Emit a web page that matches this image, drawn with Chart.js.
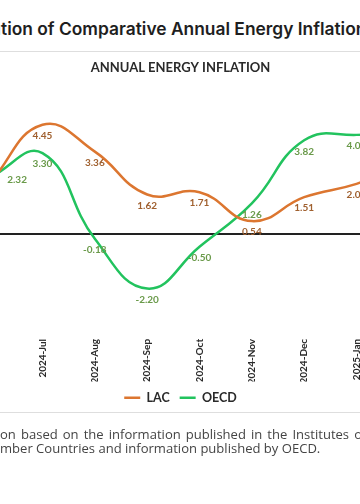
<!DOCTYPE html>
<html><head><meta charset="utf-8">
<script src="https://cdn.jsdelivr.net/npm/chart.js@4.4.1/dist/chart.umd.min.js"></script>
<style>
html,body{margin:0;padding:0;width:360px;height:504px;overflow:hidden;background:#fff;position:relative}
.abs{position:absolute;white-space:nowrap}
#title{top:17px;left:0;font-family:Inter,sans-serif;font-weight:600;color:#1e1e1e;font-size:17px;line-height:24px}
.rule{position:absolute;left:0;width:360px;height:1px;background:#dedede}
#chartBox{position:absolute;left:-74.5px;top:55px;width:509px;height:359px}
.note{font-family:'Open Sans',sans-serif;font-size:12.5px;color:#444;line-height:14px;left:0}
</style></head>
<body>
<div id="title" class="abs"><span class="pre">Evolu</span><span class="vis">tion of Comparative Annual Energy Inflatio</span>n</div>
<div class="rule" style="top:51px"></div>
<div id="chartBox"><canvas id="c"></canvas></div>
<div class="rule" style="top:412px"></div>
<div id="n1" class="abs note" style="top:427px"><span class="pre">Source: Own elaborati</span><span class="vis">on based on the information published in the Institutes o</span>f Statistics of</div>
<div id="n2" class="abs note" style="top:441px"><span class="pre">Statistics of Me</span><span class="vis">mber Countries and information published by OECD.</span></div>
<script>
const categories = ['2024-Jun','2024-Jul','2024-Aug','2024-Sep','2024-Oct','2024-Nov','2024-Dec','2025-Jan','2025-Feb'];
const lacValues  = [2.10, 4.45, 3.36, 1.62, 1.71, 0.54, 1.51, 2.05, 2.90];
const oecdValues = [2.32, 3.30, -0.18, -2.20, -0.50, 1.26, 3.82, 4.04, 3.95];
const seriesNames = ['LAC', 'OECD'];
const chartTitle = 'ANNUAL ENERGY INFLATION';

function fit(el, startX, targetW){
  const pre = el.querySelector('.pre'), vis = el.querySelector('.vis');
  if (targetW){
    let fs = parseFloat(getComputedStyle(el).fontSize);
    fs *= targetW / vis.getBoundingClientRect().width;
    el.style.fontSize = fs + 'px';
  }
  el.style.left = (startX - pre.getBoundingClientRect().width) + 'px';
}
function layoutText(){
  fit(document.getElementById('title'), 1, 355);
  const n2 = document.getElementById('n2');
  fit(n2, 0, 320);
  const n1 = document.getElementById('n1');
  n1.style.fontSize = n2.style.fontSize;
  n1.style.wordSpacing = '0px';
  const vis = n1.querySelector('.vis');
  const w0 = vis.getBoundingClientRect().width;
  const spaces = (vis.textContent.match(/ /g) || []).length;
  n1.style.wordSpacing = ((362 - w0) / spaces) + 'px';
  fit(n1, 0, 0);
}
layoutText();
if (document.fonts && document.fonts.ready) document.fonts.ready.then(layoutText);

const valueLabels = {
  id: 'valueLabels',
  afterDatasetsDraw(chart){
    const ctx = chart.ctx;
    chart.data.datasets.forEach((ds, di) => {
      const meta = chart.getDatasetMeta(di);
      ctx.save();
      ctx.font = 'bold 10px Lato, sans-serif';
      ctx.fillStyle = ds.labelColor;
      ctx.textBaseline = 'middle';
      meta.data.forEach((pt, i) => {
        const txt = ds.data[i].toFixed(2);
        if (di === 1 && i === 0){ ctx.textAlign = 'left'; ctx.fillText(txt, pt.x + 17, pt.y + 3); }
        else { ctx.textAlign = 'center'; ctx.fillText(txt, pt.x, pt.y + 11); }
      });
      ctx.restore();
    });
  }
};

new Chart(document.getElementById('c'), {
  type: 'line',
  data: {
    labels: categories,
    datasets: [
      {label: seriesNames[0], data: lacValues, borderColor: '#DC7630', backgroundColor: '#DC7630', labelColor: '#A0602F',
       borderWidth: 2.5, pointRadius: 0, tension: 0.45, fill: false, pointStyle: 'line'},
      {label: seriesNames[1], data: oecdValues, borderColor: '#22C35E', backgroundColor: '#22C35E', labelColor: '#6A9A4A',
       borderWidth: 2.5, pointRadius: 0, tension: 0.45, fill: false, pointStyle: 'line'}
    ]
  },
  options: {
    responsive: true, maintainAspectRatio: false, animation: false,
    layout: {padding: 0},
    plugins: {
      title: {display: true, text: chartTitle, color: '#2a2a2a', font: {family: 'Lato', weight: 'bold', size: 13}, padding: {top: 5, bottom: 11}},
      legend: {position: 'bottom', labels: {usePointStyle: true, pointStyle: 'line', pointStyleWidth: 16, color: '#2a2a2a',
               font: {family: 'Lato', weight: 'bold', size: 12.5}, padding: 10}},
      tooltip: {enabled: false}
    },
    scales: {
      x: {offset: true, grid: {display: false, drawTicks: false}, border: {display: false},
          ticks: {minRotation: 90, maxRotation: 90, autoSkip: false, padding: 6, color: '#2a2a2a', font: {family: 'Lato', weight: 'bold', size: 10}},
          afterFit(s){ s.height = 48.6; }},
      y: {min: -4, max: 6, ticks: {display: false, stepSize: 1},
          grid: {drawTicks: false, color: c => c.tick && c.tick.value === 0 ? '#222' : 'rgba(0,0,0,0)', lineWidth: c => c.tick && c.tick.value === 0 ? 2 : 0},
          border: {display: false},
          afterFit(s){ s.width = 38; }}
    }
  },
  plugins: [valueLabels]
});
</script>
</body></html>
